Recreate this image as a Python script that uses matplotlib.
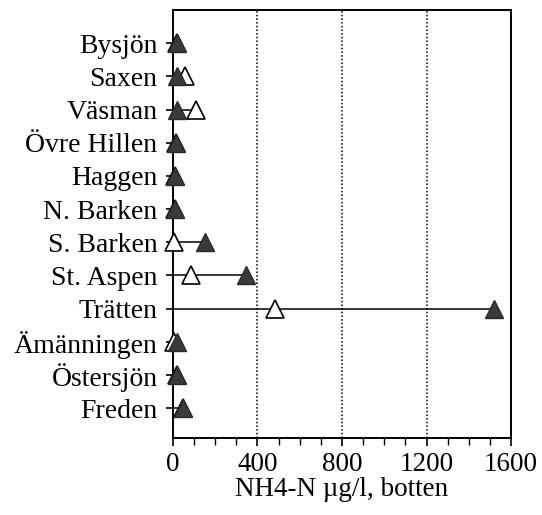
import matplotlib.pyplot as plt
from matplotlib.ticker import MultipleLocator
import numpy as np

plt.rcParams['font.family'] = ['Liberation Serif', 'DejaVu Serif']

lakes = ['Bysjön', 'Saxen', 'Väsman', 'Övre Hillen', 'Haggen', 'N. Barken',
         'S. Barken', 'St. Aspen', 'Trätten', 'Ämänningen', 'Östersjön', 'Freden']
# open triangles (first measurement) and filled triangles (second)
open_vals = [20, 55, 110, 15, 10, 10, 5, 85, 485, 5, 20, 50]
filled_vals = [20, 20, 20, 15, 10, 10, 150, 345, 1520, 20, 20, 50]

ypos = np.arange(len(lakes))
line_end = np.maximum(open_vals, filled_vals)

fig = plt.figure(figsize=(5.42, 5.15), dpi=100)
ax = fig.add_axes([0.319, 0.1495, 0.624, 0.831])

# vertical dotted grid lines
for gx in [400, 800, 1200]:
    ax.axvline(gx, color='k', linestyle=(0, (1.0, 1.4)), linewidth=1.1, zorder=1)

ax.hlines(ypos, 0, line_end, colors='k', linewidth=1.1, zorder=2)

ax.plot(open_vals, ypos, linestyle='none', marker='^', markersize=13.5,
        markerfacecolor='white', markeredgecolor='k', markeredgewidth=1.2,
        zorder=3, clip_on=False)
ax.plot(filled_vals, ypos, linestyle='none', marker='^', markersize=13.5,
        markerfacecolor='#3a3a3a', markeredgecolor='#2a2a2a', markeredgewidth=1.0,
        zorder=4, clip_on=False)

ax.set_xlim(0, 1600)
ax.set_ylim(11.9, -1)
ax.set_xticks([0, 400, 800, 1200, 1600])
ax.xaxis.set_minor_locator(MultipleLocator(100))
ax.set_yticks(ypos)
ax.set_yticklabels(lakes)

ax.tick_params(axis='x', which='major', direction='out', length=6, width=1.2,
               labelsize=19.5, pad=4)
ax.tick_params(axis='x', which='minor', direction='out', length=5, width=1.0)
ax.tick_params(axis='y', direction='out', length=5, width=1.2, labelsize=20, pad=6)

for s in ax.spines.values():
    s.set_linewidth(1.4)

ax.set_xlabel('NH4-N µg/l, botten', fontsize=19.5, labelpad=0)

fig.savefig('out.png', dpi=100)
